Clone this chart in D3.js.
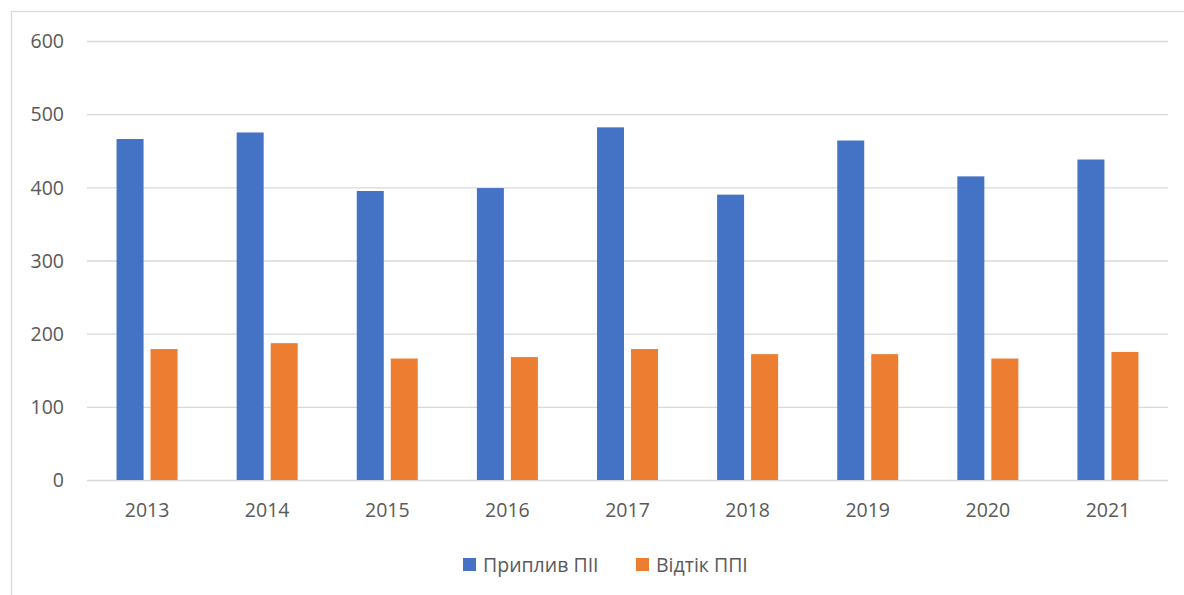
<!DOCTYPE html>
<html lang="uk">
<head>
    <meta charset="UTF-8">
    <title>Приплив ПІІ / Відтік ППІ</title>
    <script src="https://cdnjs.cloudflare.com/ajax/libs/d3/7.8.5/d3.min.js"></script>
    <style>
        body { margin: 0; background: #fff; }
        text { font-family: "Open Sans", "Liberation Sans", sans-serif; fill: #595959; }
    </style>
</head>
<body>
    <script>
        // data
        var years = ["2013","2014","2015","2016","2017","2018","2019","2020","2021"];
        var inflow = [466, 475, 395, 399, 482, 390, 464, 415, 438];
        var outflow = [179, 187, 166, 168, 179, 172, 172, 166, 175];
        var seriesNames = ["Приплив ПІІ", "Відтік ППІ"];
        var yTicks = [0, 100, 200, 300, 400, 500, 600];

        var colors = ["#4472C4", "#ED7D31"];
        var series = [inflow, outflow];

        var svg = d3.select("body").append("svg")
            .attr("width", 1184)
            .attr("height", 595);

        // chart frame
        svg.append("rect")
            .attr("x", 11.5).attr("y", 11.5)
            .attr("width", 1200).attr("height", 700)
            .attr("fill", "none")
            .attr("stroke", "#d9d9d9")
            .attr("stroke-width", 1.3);

        // plot area (window.top is reserved, so own names)
        var plotL = 87, plotR = 1168, plotT = 41, plotB = 480;

        var x = d3.scaleBand().domain(years).range([plotL, plotR]);
        var y = d3.scaleLinear().domain([0, 600]).range([plotB, plotT]);

        // grid lines
        svg.append("g").selectAll("line")
            .data(yTicks)
            .enter().append("line")
            .attr("x1", plotL).attr("x2", plotR)
            .attr("y1", function(d){ return y(d) + 0.5; })
            .attr("y2", function(d){ return y(d) + 0.5; })
            .attr("stroke", "#d9d9d9")
            .attr("stroke-width", 1.3);

        // y axis labels
        var yAxis = d3.axisLeft(y).tickValues(yTicks).tickSize(0).tickPadding(0);
        var gy = svg.append("g")
            .attr("transform", "translate(64,0)")
            .call(yAxis);
        gy.select(".domain").remove();
        gy.selectAll("text").style("font-size", "19.5px").attr("dy", "0.35em");

        // x axis labels
        var xAxis = d3.axisBottom(x).tickSize(0).tickPadding(0);
        var gx = svg.append("g")
            .attr("transform", "translate(0,503)")
            .call(xAxis);
        gx.select(".domain").remove();
        gx.selectAll("text").style("font-size", "19.5px").attr("dy", "0.71em");

        // bars
        var barW = 27, gap = 7;
        series.forEach(function(vals, si){
            svg.append("g").selectAll("rect")
                .data(vals)
                .enter().append("rect")
                .attr("x", function(d, i){
                    var c = x(years[i]) + x.bandwidth() / 2;
                    return c - (barW * 2 + gap) / 2 + si * (barW + gap);
                })
                .attr("y", function(d){ return y(d); })
                .attr("width", barW)
                .attr("height", function(d){ return y(0) - y(d); })
                .attr("fill", colors[si]);
        });

        // legend
        var legendPos = [463, 636];
        var lg = svg.append("g");
        seriesNames.forEach(function(name, i){
            lg.append("rect")
                .attr("x", legendPos[i]).attr("y", 558)
                .attr("width", 13).attr("height", 13)
                .attr("fill", colors[i]);
            lg.append("text")
                .attr("x", legendPos[i] + 20).attr("y", 572)
                .style("font-size", "19.5px")
                .text(name);
        });
    </script>
</body>
</html>
